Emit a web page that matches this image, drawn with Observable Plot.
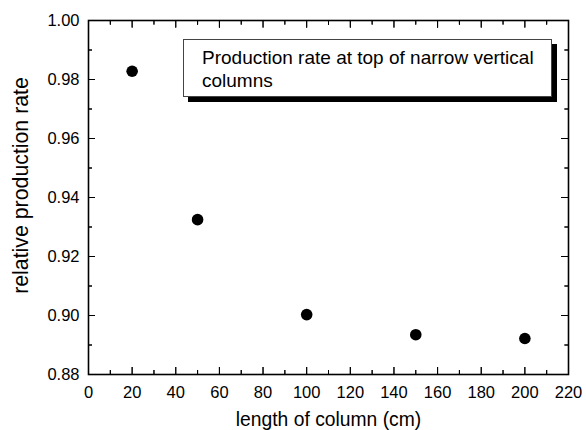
<!DOCTYPE html>
<html><head><meta charset="utf-8">
<script src="https://cdn.jsdelivr.net/npm/d3@7"></script>
<script src="https://cdn.jsdelivr.net/npm/@observablehq/plot@0.6"></script>
<style>
body{margin:0;background:#fff;font-family:"Liberation Sans",Arial,sans-serif;}
#wrap{position:relative;width:586px;height:430px;}
#plot svg{font-family:"Liberation Sans",Arial,sans-serif;}
#legend{position:absolute;left:183px;top:39px;width:369px;height:58px;box-sizing:border-box;border:1px solid #444;background:#fff;box-shadow:5px 5px 0 #000;font-size:19px;line-height:23px;padding:6px 0 0 18px;color:#000;white-space:nowrap;}
</style></head>
<body><div id="wrap"><div id="plot"></div><div id="legend">Production rate at top of narrow vertical<br>columns</div></div>
<script>
const lengths = [20, 50, 100, 150, 200];
const rates = [0.9828, 0.9325, 0.9003, 0.8935, 0.8922];
const xMajor = [0,20,40,60,80,100,120,140,160,180,200,220];
const xMinor = [10,30,50,70,90,110,130,150,170,190,210];
const yMajor = [0.88,0.90,0.92,0.94,0.96,0.98,1.00];
const yMinor = [0.89,0.91,0.93,0.95,0.97,0.99];
const data = lengths.map((x,i)=>({x, y: rates[i]}));
const W = 586, H = 430, mL = 88, mR = 18, mT = 20, mB = 56;
const fw = W - mL - mR, fh = H - mT - mB;
const T = 7, t = 4;
const none = () => "";
const chart = Plot.plot({
  width: W, height: H,
  marginLeft: mL, marginRight: mR, marginTop: mT, marginBottom: mB,
  x: {domain: [0, 220]},
  y: {domain: [0.88, 1.00]},
  marks: [
    // tick labels
    Plot.axisX(xMajor, {anchor: "bottom", tickSize: 0, tickPadding: 12, tickFormat: d => d, label: null, fontSize: 16.5, fontFamily: "Liberation Sans, Arial, sans-serif"}),
    Plot.axisY(yMajor, {anchor: "left", tickSize: 0, tickPadding: 9, tickFormat: d3.format(".2f"), label: null, fontSize: 16.5, fontFamily: "Liberation Sans, Arial, sans-serif"}),
    // inward ticks via axis marks
    Plot.axisX(xMajor, {anchor: "bottom", tickSize: T, insetBottom: T, tickFormat: none, label: null}),
    Plot.axisX(xMinor, {anchor: "bottom", tickSize: t, insetBottom: t, tickFormat: none, label: null}),
    Plot.axisX(xMajor, {anchor: "top", tickSize: T, insetTop: T, tickFormat: none, label: null}),
    Plot.axisX(xMinor, {anchor: "top", tickSize: t, insetTop: t, tickFormat: none, label: null}),
    Plot.axisY(yMajor, {anchor: "left", tickSize: T, insetLeft: T, tickFormat: none, label: null}),
    Plot.axisY(yMinor, {anchor: "left", tickSize: t, insetLeft: t, tickFormat: none, label: null}),
    Plot.axisY(yMajor, {anchor: "right", tickSize: T, insetRight: T, tickFormat: none, label: null}),
    Plot.axisY(yMinor, {anchor: "right", tickSize: t, insetRight: t, tickFormat: none, label: null}),
    // same inward ticks via rules
    Plot.ruleX(xMajor, {x: d => d, insetTop: fh - T, stroke: "black"}),
    Plot.ruleX(xMinor, {x: d => d, insetTop: fh - t, stroke: "black"}),
    Plot.ruleX(xMajor, {x: d => d, insetBottom: fh - T, stroke: "black"}),
    Plot.ruleX(xMinor, {x: d => d, insetBottom: fh - t, stroke: "black"}),
    Plot.ruleY(yMajor, {y: d => d, insetRight: fw - T, stroke: "black"}),
    Plot.ruleY(yMinor, {y: d => d, insetRight: fw - t, stroke: "black"}),
    Plot.ruleY(yMajor, {y: d => d, insetLeft: fw - T, stroke: "black"}),
    Plot.ruleY(yMinor, {y: d => d, insetLeft: fw - t, stroke: "black"}),
    Plot.frame({stroke: "black", strokeWidth: 1.6}),
    Plot.dot(data, {x: "x", y: "y", r: 5.8, fill: "black"}),
    Plot.text(["relative production rate"], {frameAnchor: "left", textAnchor: "middle", lineAnchor: "middle", rotate: -90, dx: -67, dy: -12, fontSize: 21.3, fontFamily: "Liberation Sans, Arial, sans-serif"}),
    Plot.text(["length of column (cm)"], {frameAnchor: "bottom", textAnchor: "middle", lineAnchor: "middle", dy: 45, fontSize: 19.3, fontFamily: "Liberation Sans, Arial, sans-serif"})
  ]
});
document.getElementById("plot").append(chart);
</script></body></html>
